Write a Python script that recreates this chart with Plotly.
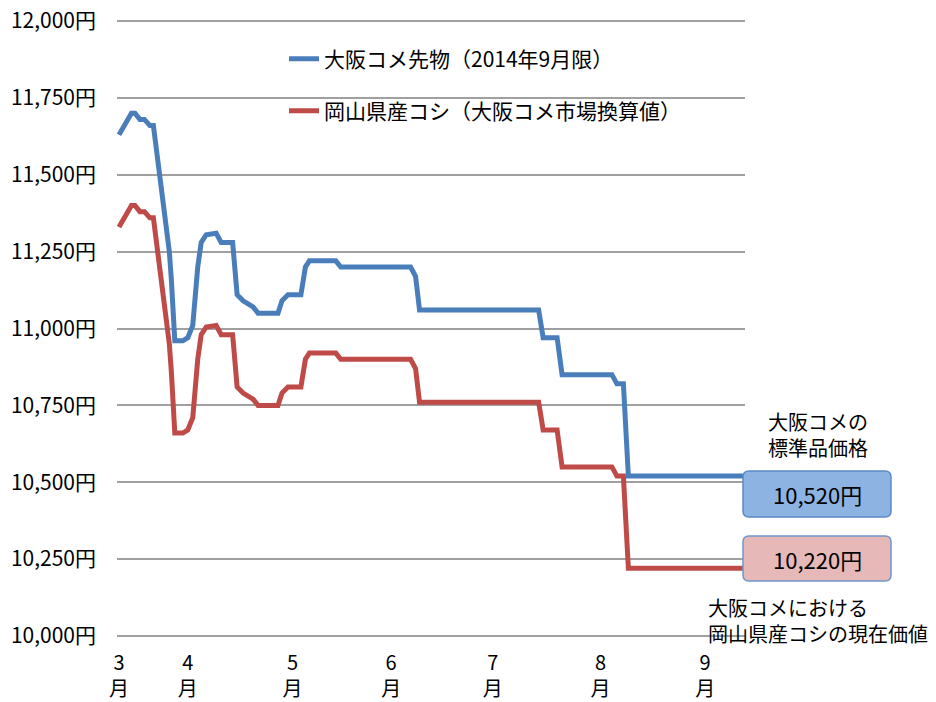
import plotly.graph_objects as go

# ---- data (x = trading-day position, 0 = start of March label) ----
day_x = [0, 2.5, 3.2, 4.2, 5.1, 6.2, 6.9, 8.5, 10.1, 10.5, 11.2, 12.8, 13.8, 14.8, 15.8, 16.5,
         17.5, 19.5, 20.5, 22.8, 23.7, 24.9, 26.9, 27.9, 31.9, 32.7, 33.9, 36.5, 37.4, 38.2,
         43.5, 44.5, 58.5, 59.5, 60.3, 84.2, 85.1, 87.9, 88.9, 98.9, 99.9, 101.2, 102.2, 125.2]
osaka_futures = [11630, 11700, 11700, 11680, 11680, 11660, 11660, 11450, 11250, 11160, 10960,
                 10960, 10970, 11010, 11200, 11280, 11305, 11310, 11280, 11280, 11110, 11090,
                 11070, 11050, 11050, 11090, 11110, 11110, 11200, 11220, 11220, 11200, 11200,
                 11170, 11060, 11060, 10970, 10970, 10850, 10850, 10820, 10820, 10520, 10520]
okayama_koshi = [11330, 11400, 11400, 11380, 11380, 11360, 11360, 11150, 10950, 10860, 10660,
                 10660, 10670, 10710, 10900, 10980, 11005, 11010, 10980, 10980, 10810, 10790,
                 10770, 10750, 10750, 10790, 10810, 10810, 10900, 10920, 10920, 10900, 10900,
                 10870, 10760, 10760, 10670, 10670, 10550, 10550, 10520, 10520, 10220, 10220]
month_pos = [0, 13.8, 34.8, 54.6, 75, 96.6, 117.6]
month_labels = ["3<br>月", "4<br>月", "5<br>月", "6<br>月", "7<br>月", "8<br>月", "9<br>月"]
y_ticks = [10000, 10250, 10500, 10750, 11000, 11250, 11500, 11750, 12000]
y_labels = ["10,000円", "10,250円", "10,500円", "10,750円", "11,000円",
            "11,250円", "11,500円", "11,750円", "12,000円"]
y_min, y_max = 10000, 12000

FONT = "Noto Sans CJK JP"
BLUE = "#4A7EBB"
RED = "#BE4B48"

# page body has an 8px margin; targets are in window pixels
OFF = 8
L, R = 117, 745          # plot area left/right
Y_TOP, Y_BOT = 21, 636   # pixel rows of 12,000 and 10,000 gridlines
EXTRA = 3                # px of plot area beyond the end gridlines (so they get drawn)
T, B = Y_TOP - EXTRA, Y_BOT + EXTRA
W, H = 936 - OFF, 702 - OFF
units_per_px = (y_max - y_min) / (Y_BOT - Y_TOP)
y_range = [y_min - EXTRA * units_per_px, y_max + EXTRA * units_per_px]


def pp(px, py):
    return (px - L) / (R - L), (B - py) / (B - T)


def rounded_rect(x0, y0, x1, y1, r):
    pts = [
        ("M", (x0 + r, y0)), ("L", (x1 - r, y0)), ("Q", (x1, y0), (x1, y0 + r)),
        ("L", (x1, y1 - r)), ("Q", (x1, y1), (x1 - r, y1)), ("L", (x0 + r, y1)),
        ("Q", (x0, y1), (x0, y1 - r)), ("L", (x0, y0 + r)), ("Q", (x0, y0), (x0 + r, y0)),
    ]
    s = ""
    for cmd, *coords in pts:
        s += cmd + " ".join("%.5f,%.5f" % pp(*c) for c in coords) + " "
    return s + "Z"


fig = go.Figure()
fig.add_trace(go.Scatter(x=day_x, y=osaka_futures, mode="lines", name="大阪コメ先物（2014年9月限）",
                         line=dict(color=BLUE, width=5), legend="legend", hoverinfo="skip"))
fig.add_trace(go.Scatter(x=day_x, y=okayama_koshi, mode="lines", name="岡山県産コシ（大阪コメ市場換算値）",
                         line=dict(color=RED, width=5), legend="legend2", hoverinfo="skip"))

shapes = [
    dict(type="path", xref="paper", yref="paper", path=rounded_rect(743, 471, 891, 517, 6),
         fillcolor="#8DB3E2", line=dict(color="#5B8BC7", width=1.5), layer="above"),
    dict(type="path", xref="paper", yref="paper", path=rounded_rect(743, 536, 891, 581, 6),
         fillcolor="#E6B9B8", line=dict(color="#6E97CB", width=1.5), layer="above"),
]


def ann(text, px, py, size=20, xanchor="center", align="center"):
    x, y = pp(px, py)
    return dict(text=text, x=x, y=y, xref="paper", yref="paper", showarrow=False,
                xanchor=xanchor, yanchor="middle", align=align,
                font=dict(family=FONT, size=size, color="#000000"))


annotations = [
    ann("大阪コメの<br>標準品価格", 818, 434),
    ann("10,520円", 817, 494, size=22),
    ann("10,220円", 817, 559, size=22),
    ann("大阪コメにおける<br>岡山県産コシの現在価値", 706, 620, xanchor="left", align="left"),
]

lx, ly1 = pp(284, 59)
_, ly2 = pp(284, 111)
legend_common = dict(xref="paper", yref="paper", xanchor="left", yanchor="middle",
                     bgcolor="rgba(0,0,0,0)", borderwidth=0,
                     font=dict(family=FONT, size=21, color="#000000"))

fig.update_layout(
    width=W, height=H,
    margin=dict(l=L - OFF, r=W - (R - OFF), t=T - OFF, b=H - (B - OFF), pad=0, autoexpand=False),
    paper_bgcolor="white", plot_bgcolor="white",
    font=dict(family=FONT, size=20, color="#000000"),
    showlegend=True,
    legend=dict(x=lx, y=ly1, **legend_common),
    legend2=dict(x=lx, y=ly2, **legend_common),
    xaxis=dict(range=[-0.4, 125.6], tickmode="array", tickvals=month_pos, ticktext=month_labels,
               showgrid=False, zeroline=False, showline=False, ticks="", automargin=False,
               ticklabelstandoff=10, ticklabeloverflow="allow",
               tickfont=dict(family=FONT, size=20, color="#000000")),
    yaxis=dict(range=y_range, tickmode="array", tickvals=y_ticks, ticktext=y_labels,
               showgrid=True, gridcolor="#A0A0A0", gridwidth=1.5, automargin=False,
               zeroline=False, showline=False, ticks="", ticklabelstandoff=20,
               ticklabeloverflow="allow",
               tickfont=dict(family=FONT, size=21, color="#000000")),
    shapes=shapes,
    annotations=annotations,
)

fig.write_html("out.html")
